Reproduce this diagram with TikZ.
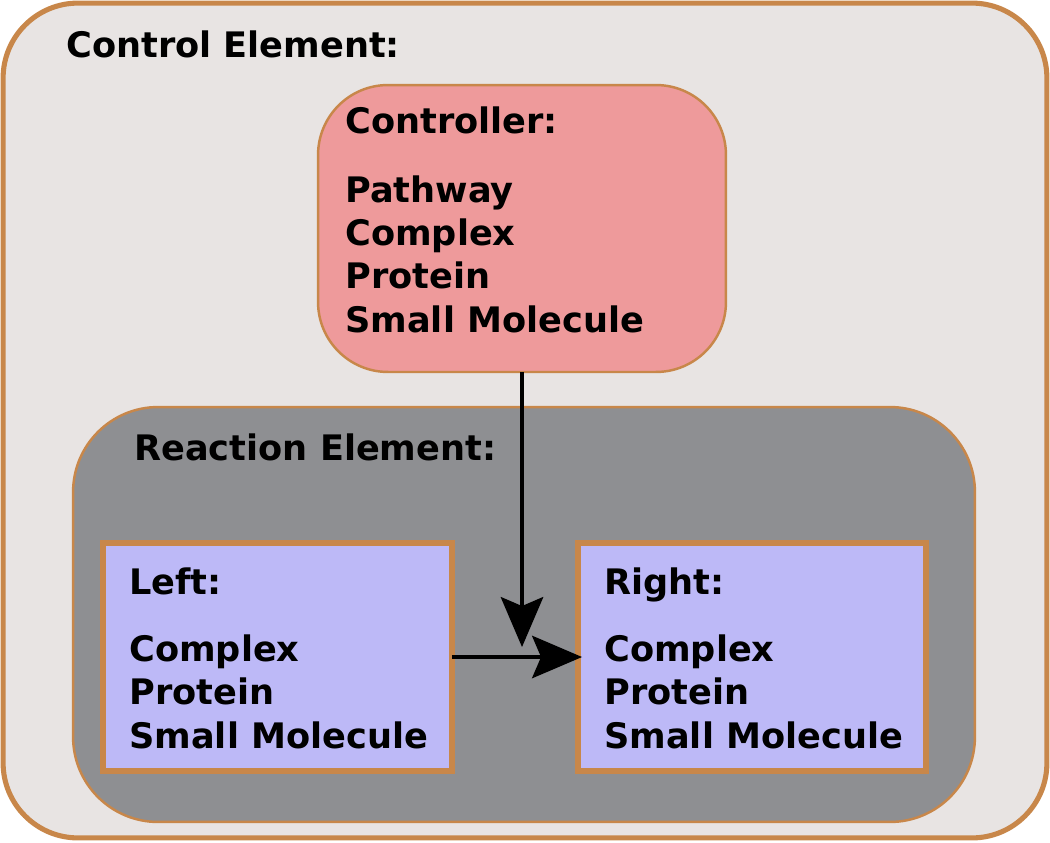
\documentclass[tikz,border=0pt]{standalone}
\usepackage{fontspec}
\setmainfont{DejaVu Sans}
\usetikzlibrary{arrows.meta}
\definecolor{brd}{HTML}{C8874A}
\definecolor{ctlfill}{HTML}{E8E4E3}
\definecolor{cfill}{HTML}{EE9A9B}
\definecolor{rfill}{HTML}{8E8F92}
\definecolor{sfill}{HTML}{BDB9F7}
\tikzset{
  box/.style={draw=brd, outer sep=0pt, inner sep=0pt},
  lbl/.style={anchor=base west, inner sep=0pt, font=\bfseries\fontsize{20}{24}\selectfont},
  arr/.style={line width=1.8pt, -{Stealth[length=1cm,width=0.85cm,inset=0.18cm]}}
}
\begin{document}
\begin{tikzpicture}[x=0.02cm,y=-0.02cm]
\useasboundingbox (0,0) rectangle (1050,842);
% control element
\node[box, fill=ctlfill, line width=2.9pt, rounded corners=1.5cm, minimum width=20.88cm, minimum height=16.7cm] (control) at (525,420.5) {};
\node[lbl] (controltitle) at (66,57) {Control Element:};

% controller
\node[box, fill=cfill, line width=1.4pt, rounded corners=1.4cm, minimum width=8.16cm, minimum height=5.74cm] (controller) at (522,228.5) {};
\node[lbl] (ctltitle) at (345,133) {Controller:};
\foreach \txt [count=\i] in {Pathway,Complex,Protein,Small Molecule}
  \node[lbl] (ctl\i) at (345,202+43.4*\i-43.4) {\txt};

% reaction element
\node[box, fill=rfill, line width=1.4pt, rounded corners=1.7cm, minimum width=18.04cm, minimum height=8.3cm] (reaction) at (524,614.5) {};
\node[lbl] (reactitle) at (134,460) {Reaction Element:};

\node[box, fill=sfill, line width=3pt, minimum width=6.98cm, minimum height=4.56cm] (left) at (277.5,657) {};
\node[box, fill=sfill, line width=3pt, minimum width=6.96cm, minimum height=4.56cm] (right) at (752,657) {};
\node[lbl] (lefttitle) at (129,594) {Left:};
\node[lbl] (righttitle) at (604,594) {Right:};
\foreach \txt [count=\i] in {Complex,Protein,Small Molecule} {
  \node[lbl] (left\i) at (129,661+43.5*\i-43.5) {\txt};
  \node[lbl] (right\i) at (604,661+43.5*\i-43.5) {\txt};
}

% arrows
\coordinate (vtip) at (522,647);
\draw[arr] (controller.south) -- (vtip);
\draw[arr] (left.east) -- ([xshift=0.08cm]right.west);
\end{tikzpicture}
\end{document}
